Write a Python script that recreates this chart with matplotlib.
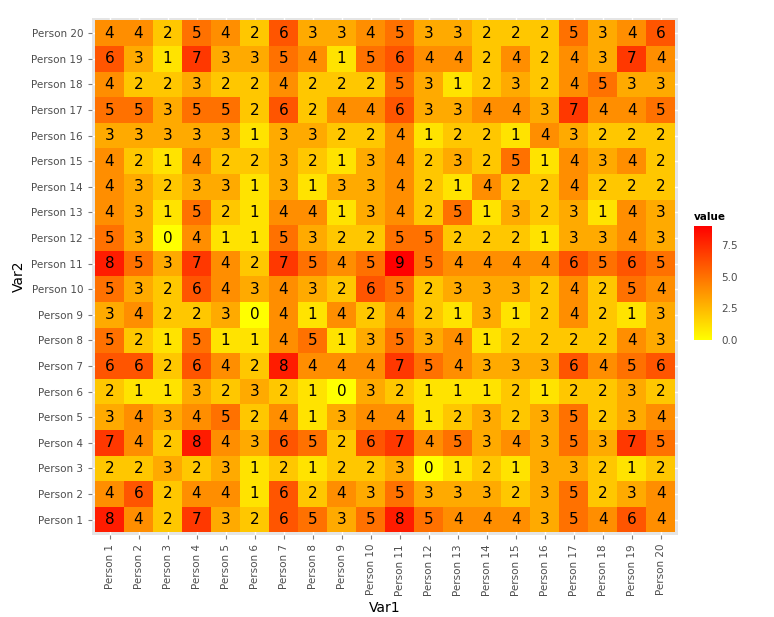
import matplotlib.pyplot as plt
import numpy as np
from matplotlib.colors import LinearSegmentedColormap

people = [f"Person {i}" for i in range(1, 21)]

# rows: Person 1 .. Person 20 (Var2), columns: Person 1 .. Person 20 (Var1)
values = np.array([
    [8, 4, 2, 7, 3, 2, 6, 5, 3, 5, 8, 5, 4, 4, 4, 3, 5, 4, 6, 4],
    [4, 6, 2, 4, 4, 1, 6, 2, 4, 3, 5, 3, 3, 3, 2, 3, 5, 2, 3, 4],
    [2, 2, 3, 2, 3, 1, 2, 1, 2, 2, 3, 0, 1, 2, 1, 3, 3, 2, 1, 2],
    [7, 4, 2, 8, 4, 3, 6, 5, 2, 6, 7, 4, 5, 3, 4, 3, 5, 3, 7, 5],
    [3, 4, 3, 4, 5, 2, 4, 1, 3, 4, 4, 1, 2, 3, 2, 3, 5, 2, 3, 4],
    [2, 1, 1, 3, 2, 3, 2, 1, 0, 3, 2, 1, 1, 1, 2, 1, 2, 2, 3, 2],
    [6, 6, 2, 6, 4, 2, 8, 4, 4, 4, 7, 5, 4, 3, 3, 3, 6, 4, 5, 6],
    [5, 2, 1, 5, 1, 1, 4, 5, 1, 3, 5, 3, 4, 1, 2, 2, 2, 2, 4, 3],
    [3, 4, 2, 2, 3, 0, 4, 1, 4, 2, 4, 2, 1, 3, 1, 2, 4, 2, 1, 3],
    [5, 3, 2, 6, 4, 3, 4, 3, 2, 6, 5, 2, 3, 3, 3, 2, 4, 2, 5, 4],
    [8, 5, 3, 7, 4, 2, 7, 5, 4, 5, 9, 5, 4, 4, 4, 4, 6, 5, 6, 5],
    [5, 3, 0, 4, 1, 1, 5, 3, 2, 2, 5, 5, 2, 2, 2, 1, 3, 3, 4, 3],
    [4, 3, 1, 5, 2, 1, 4, 4, 1, 3, 4, 2, 5, 1, 3, 2, 3, 1, 4, 3],
    [4, 3, 2, 3, 3, 1, 3, 1, 3, 3, 4, 2, 1, 4, 2, 2, 4, 2, 2, 2],
    [4, 2, 1, 4, 2, 2, 3, 2, 1, 3, 4, 2, 3, 2, 5, 1, 4, 3, 4, 2],
    [3, 3, 3, 3, 3, 1, 3, 3, 2, 2, 4, 1, 2, 2, 1, 4, 3, 2, 2, 2],
    [5, 5, 3, 5, 5, 2, 6, 2, 4, 4, 6, 3, 3, 4, 4, 3, 7, 4, 4, 5],
    [4, 2, 2, 3, 2, 2, 4, 2, 2, 2, 5, 3, 1, 2, 3, 2, 4, 5, 3, 3],
    [6, 3, 1, 7, 3, 3, 5, 4, 1, 5, 6, 4, 4, 2, 4, 2, 4, 3, 7, 4],
    [4, 4, 2, 5, 4, 2, 6, 3, 3, 4, 5, 3, 3, 2, 2, 2, 5, 3, 4, 6],
])

cmap = LinearSegmentedColormap.from_list("yr", ["#FFFF00", "#FF0000"])

fig = plt.figure(figsize=(7.74, 6.17), dpi=100)
ax = fig.add_axes([0.119, 0.133, 0.757, 0.838])
ax.set_facecolor("#E5E5E5")
n = len(people)
for v in range(1, n + 1):
    ax.axvline(v, color="white", lw=1, zorder=0)
    ax.axhline(v, color="white", lw=1, zorder=0)

mesh = ax.pcolormesh(np.arange(0.5, n + 1), np.arange(0.5, n + 1), values,
                     cmap=cmap, vmin=0, vmax=9, zorder=1)
for r in range(n):
    for c in range(n):
        ax.text(c + 1, r + 1, str(values[r, c]), ha="center", va="center",
                fontsize=11, color="black", zorder=2)

ax.set_xlim(0.4, n + 0.6)
ax.set_ylim(0.4, n + 0.6)
ax.set_xticks(range(1, n + 1))
ax.set_yticks(range(1, n + 1))
ax.set_xticklabels(people, rotation=90, fontsize=7.5, color="#4D4D4D")
ax.set_yticklabels(people, fontsize=7.5, color="#4D4D4D")
ax.tick_params(length=3, color="#7F7F7F")
for s in ax.spines.values():
    s.set_visible(False)
ax.set_xlabel("Var1", fontsize=10)
ax.set_ylabel("Var2", fontsize=10)

cax = fig.add_axes([0.897, 0.449, 0.023, 0.185])
cb = fig.colorbar(mesh, cax=cax, ticks=[0, 2.5, 5.0, 7.5])
cb.ax.set_yticklabels(["0.0", "2.5", "5.0", "7.5"], fontsize=7.5, color="#4D4D4D")
cb.outline.set_visible(False)
cb.ax.tick_params(length=3, color="white")
cax.set_title("value", fontsize=7.5, fontweight="bold", loc="left", pad=4)

fig.savefig("out.png", dpi=100)
